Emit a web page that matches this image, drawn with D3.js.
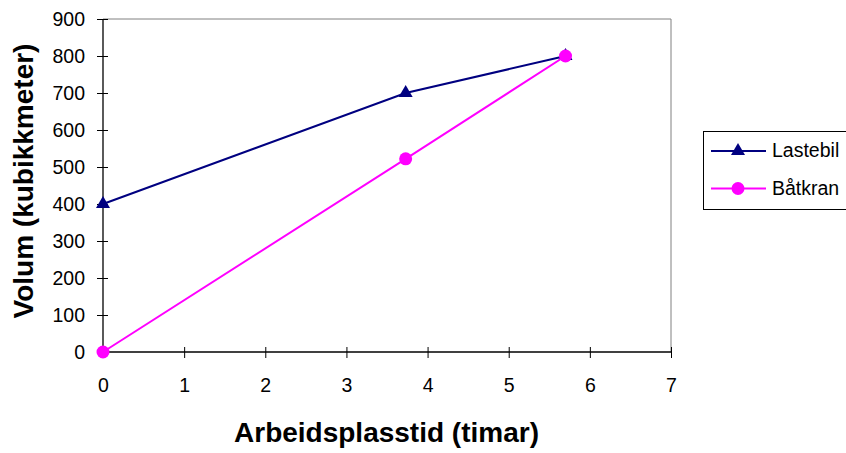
<!DOCTYPE html>
<html><head><meta charset="utf-8">
<script src="https://cdn.jsdelivr.net/npm/d3@7"></script>
<style>body{margin:0;background:#fff;}svg{display:block;font-family:"Liberation Sans",Arial,sans-serif;}</style>
</head><body>
<svg id="c" width="846" height="453"></svg>
<script>
const xTicks = [0,1,2,3,4,5,6,7];
const yTicks = [0,100,200,300,400,500,600,700,800,900];
const seriesNames = ["Lastebil","Båtkran"];
const seriesColors = ["#000080","#FF00FF"];
const lastebilX = [0,3.73,5.7];
const lastebilY = [400,700,800];
const batkranX = [0,3.73,5.7];
const batkranY = [0,522,800];
const xTitle = "Arbeidsplasstid (timar)";
const yTitle = "Volum (kubikkmeter)";

const svg = d3.select("#c");
const L=103,R=671,T=19,B=352;
const x = d3.scaleLinear().domain([0,7]).range([L,R]);
const y = d3.scaleLinear().domain([0,900]).range([B,T]);

// plot border (gray)
svg.append("path").attr("d",`M${L},${T}H${R}V${B}`).attr("fill","none").attr("stroke","#808080").attr("stroke-width",1);

// axes
const xa = svg.append("g").attr("transform",`translate(0,${B})`)
  .call(d3.axisBottom(x).tickValues(xTicks).tickSize(6).tickPadding(0).tickFormat(d3.format("d")));
xa.selectAll(".tick line").attr("y1",-5).attr("y2",6);
const ya = svg.append("g").attr("transform",`translate(${L},0)`)
  .call(d3.axisLeft(y).tickValues(yTicks).tickSize(6).tickPadding(0).tickFormat(d3.format("d")));
ya.selectAll(".tick line").attr("x1",5).attr("x2",-6);
[xa,ya].forEach(a=>{
  a.select(".domain").attr("stroke","#000").attr("stroke-width",1.3);
  a.selectAll(".tick line").attr("stroke","#000");
  a.selectAll("text").attr("font-size",19.5).attr("fill","#000").attr("font-family","Liberation Sans, Arial, sans-serif");
});
xa.selectAll("text").attr("y",0).attr("dy",0).attr("transform","translate(0,40)");
ya.selectAll("text").attr("x",-18).attr("dy","0.35em");
xa.select(".domain").attr("d",`M${L},0H${R}`);
ya.select(".domain").attr("d",`M0,${B}V${T}`);

const line = d3.line().x(d=>x(d[0])).y(d=>y(d[1]));
const s1 = lastebilX.map((v,i)=>[v,lastebilY[i]]);
const s2 = batkranX.map((v,i)=>[v,batkranY[i]]);
const tri = d3.symbol().type(d3.symbolTriangle).size(85);

svg.append("path").datum(s1).attr("d",line).attr("fill","none").attr("stroke",seriesColors[0]).attr("stroke-width",2);
svg.selectAll(".m1").data(s1).enter().append("path").attr("d",tri)
  .attr("transform",d=>`translate(${x(d[0])},${y(d[1])})`).attr("fill",seriesColors[0]);
svg.append("path").datum(s2).attr("d",line).attr("fill","none").attr("stroke",seriesColors[1]).attr("stroke-width",2);
svg.selectAll(".m2").data(s2).enter().append("circle").attr("r",6.5)
  .attr("cx",d=>x(d[0])).attr("cy",d=>y(d[1])).attr("fill",seriesColors[1]);

// titles
svg.append("text").attr("x",386.5).attr("y",442).attr("text-anchor","middle")
  .attr("font-size",28).attr("font-weight","bold").text(xTitle);
svg.append("text").attr("transform","translate(33,181) rotate(-90)").attr("text-anchor","middle")
  .attr("font-size",28).attr("font-weight","bold").text(yTitle);

// legend
const lg = svg.append("g");
lg.append("rect").attr("x",703.5).attr("y",131.5).attr("width",160).attr("height",78).attr("fill","#fff").attr("stroke","#000").attr("stroke-width",1);
seriesNames.forEach((n,i)=>{
  const yy = 151 + i*37.5;
  lg.append("line").attr("x1",711).attr("x2",766).attr("y1",yy).attr("y2",yy).attr("stroke",seriesColors[i]).attr("stroke-width",2);
  if(i===0) lg.append("path").attr("d",tri).attr("transform",`translate(738,${yy})`).attr("fill",seriesColors[i]);
  else lg.append("circle").attr("cx",738).attr("cy",yy).attr("r",6.5).attr("fill",seriesColors[i]);
  lg.append("text").attr("x",772).attr("y",yy+6).attr("font-size",19.5).text(n);
});
</script>
</body></html>
